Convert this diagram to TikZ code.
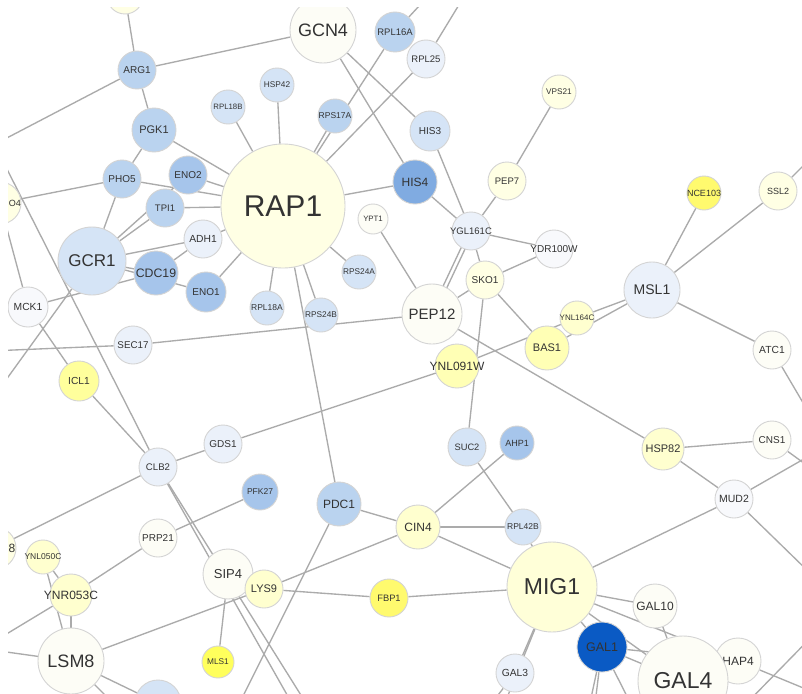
\documentclass[tikz,border=0pt]{standalone}
\usepackage{fontspec}
\setmainfont{Liberation Sans}
\pgfdeclarelayer{bg}\pgfdeclarelayer{edges}
\pgfsetlayers{bg,edges,main}
\definecolor{edgec}{HTML}{ABABAB}
\definecolor{bord}{HTML}{D4D4D4}
\definecolor{txt}{HTML}{333333}
\definecolor{w0}{HTML}{FDFDF6}
\definecolor{wb}{HTML}{F8F9FC}
\definecolor{y1}{HTML}{FFFFE4}
\definecolor{ym}{HTML}{FFFFD8}
\definecolor{y2}{HTML}{FFFFCF}
\definecolor{y3}{HTML}{FFFFB5}
\definecolor{yi}{HTML}{FFFF9C}
\definecolor{y4}{HTML}{FFFA6E}
\definecolor{y5}{HTML}{FFFF5C}
\definecolor{b0}{HTML}{EBF1FA}
\definecolor{b1}{HTML}{D5E4F6}
\definecolor{b2}{HTML}{BAD3EF}
\definecolor{b3}{HTML}{A6C5EB}
\definecolor{b4}{HTML}{80ABE1}
\definecolor{b5}{HTML}{0A5AC4}
\tikzset{
  gnode/.style={circle,draw=bord,line width=0.9pt,inner sep=0pt,text=txt},
  edge/.style={draw=edgec,line width=1.35pt},
  partlab/.style={text=txt,inner sep=0pt,anchor=east}
}
\newcommand\gn[7]{\node[gnode,minimum size=2*#4pt,fill=#5] (#1) at (#2,#3) {\makebox[0pt]{\fontsize{#6}{#6}\selectfont #7}};}
\begin{document}
\begin{tikzpicture}[x=1pt,y=-1pt]
\useasboundingbox (0,0) rectangle (802,693);
\begin{pgfonlayer}{bg}
\fill[white] (0,0) rectangle (802,693);
\end{pgfonlayer}
\begin{scope}
\clip (8,8) rectangle (802,693);
\gn{top}{125}{-4}{18}{y1}{9}{}
\gn{arg1}{137}{70}{19}{b2}{10}{ARG1}
\gn{pgk1}{154}{130}{22}{b2}{11}{PGK1}
\gn{pho5}{122}{179}{19}{b2}{10}{PHO5}
\gn{eno2}{188}{175}{19}{b3}{10}{ENO2}
\gn{tpi1}{165}{208}{19}{b2}{9.5}{TPI1}
\gn{io4}{0}{203}{21}{y1}{9}{}
\node[partlab,font=\fontsize{9}{9}\selectfont] (io4lab) at (21,203) {IO4};
\gn{rap1}{283}{206}{62}{y1}{30}{RAP1}
\gn{gcn4}{323}{30}{33}{w0}{18}{GCN4}
\gn{rpl16a}{395}{32}{20}{b2}{9.5}{RPL16A}
\gn{rpl25}{426}{59}{19}{b0}{9.5}{RPL25}
\gn{hsp42}{277}{85}{17}{b1}{8.3}{HSP42}
\gn{rpl18b}{228}{107}{17}{b1}{7.8}{RPL18B}
\gn{rps17a}{335}{116}{17}{b2}{8.5}{RPS17A}
\gn{his3}{430}{131}{20}{b1}{10}{HIS3}
\gn{his4}{415}{182}{22}{b4}{12}{HIS4}
\gn{ypt1}{373}{219}{15}{w0}{7.8}{YPT1}
\gn{pep7}{507}{181}{19}{y1}{9.5}{PEP7}
\gn{vps21}{559}{92}{17}{y1}{8.2}{VPS21}
\gn{nce103}{704}{193}{17}{y4}{9}{NCE103}
\gn{ssl2}{778}{191}{19}{y1}{9}{SSL2}
\gn{ygl161c}{471}{231}{19}{b0}{9.5}{YGL161C}
\gn{ydr100w}{554}{249}{19}{wb}{10}{YDR100W}
\gn{sko1}{485}{280}{19}{y1}{10}{SKO1}
\gn{ynl091w}{457}{366}{22}{y3}{12}{YNL091W}
\gn{pep12}{432}{314}{30}{w0}{15}{PEP12}
\gn{ynl164c}{577}{318}{17}{y2}{8}{YNL164C}
\gn{msl1}{652}{290}{28}{b0}{14}{MSL1}
\gn{bas1}{547}{348}{22}{y3}{11}{BAS1}
\gn{atc1}{772}{350}{19}{w0}{10.3}{ATC1}
\gn{sec17}{133}{345}{19}{b0}{9.8}{SEC17}
\gn{mck1}{28}{307}{20}{wb}{10.3}{MCK1}
\gn{gcr1}{92}{261}{34}{b1}{17}{GCR1}
\gn{adh1}{203}{239}{19}{b0}{10.3}{ADH1}
\gn{cdc19}{156}{273}{22}{b3}{12.3}{CDC19}
\gn{eno1}{206}{292}{20}{b3}{10}{ENO1}
\gn{rpl18a}{267}{308}{17}{b1}{8.5}{RPL18A}
\gn{rps24b}{321}{315}{17}{b1}{8.3}{RPS24B}
\gn{rps24a}{359}{272}{17}{b1}{8.3}{RPS24A}
\gn{icl1}{79}{381}{20}{yi}{10.2}{ICL1}
\gn{gds1}{223}{444}{19}{b0}{10}{GDS1}
\gn{clb2}{158}{467}{19}{b0}{9.6}{CLB2}
\gn{suc2}{467}{447}{19}{b1}{9.3}{SUC2}
\gn{ahp1}{517}{443}{17}{b3}{9}{AHP1}
\gn{hsp82}{663}{449}{21}{y2}{11}{HSP82}
\gn{cns1}{772}{440}{19}{w0}{10}{CNS1}
\gn{pfk27}{260}{492}{18}{b3}{8.5}{PFK27}
\gn{pdc1}{339}{504}{22}{b2}{12}{PDC1}
\gn{cin4}{418}{527}{22}{y2}{12}{CIN4}
\gn{rpl42b}{523}{527}{18}{b1}{8.5}{RPL42B}
\gn{mig1}{552}{587}{45}{ym}{23}{MIG1}
\gn{gal10}{655}{606}{22}{w0}{12}{GAL10}
\gn{gal1}{602}{647}{25}{b5}{12.5}{GAL1}
\gn{hap4}{738}{661}{23}{w0}{12}{HAP4}
\gn{gal4}{683}{681}{45}{w0}{23}{GAL4}
\gn{mud2}{734}{499}{19}{wb}{10.5}{MUD2}
\gn{gal3}{515}{673}{19}{b0}{10.3}{GAL3}
\gn{fbp1}{389}{598}{19}{y4}{9.3}{FBP1}
\gn{sip4}{228}{574}{25}{w0}{13}{SIP4}
\gn{lys9}{264}{589}{19}{y2}{11}{LYS9}
\gn{mls1}{218}{662}{16}{y5}{8.3}{MLS1}
\gn{prp21}{158}{538}{19}{w0}{10}{PRP21}
\gn{ynl050c}{43}{557}{17}{y2}{8.5}{YNL050C}
\gn{n8}{-5}{548}{21}{y1}{12}{}
\node[partlab,font=\fontsize{12}{12}\selectfont] (n8lab) at (15.5,548) {8};
\gn{ynr053c}{71}{595}{21}{y2}{12}{YNR053C}
\gn{lsm8}{71}{661}{33}{w0}{18}{LSM8}
\gn{bot}{158}{703}{23}{b1}{9}{}
\end{scope}
\coordinate (oL1) at (-20,152);
\coordinate (oTL) at (-22,112);
\coordinate (oL2) at (-10,402);
\coordinate (oL3) at (-10,351);
\coordinate (oL4) at (-15,647);
\coordinate (oL5) at (-15,649);
\coordinate (oT1) at (432,-8);
\coordinate (oT2) at (468,-10);
\coordinate (oR1) at (830,139);
\coordinate (oR2) at (812,418);
\coordinate (oR3) at (830,444);
\coordinate (oR4) at (830,482);
\coordinate (oR5) at (850,612);
\coordinate (oR6) at (830,699);
\coordinate (oR8) at (830,618);
\coordinate (oB1) at (290,700);
\coordinate (oB2) at (304,700);
\coordinate (oB3) at (130,720);
\coordinate (oB4) at (235,712);
\coordinate (oB5) at (500,715);
\coordinate (oB6) at (485,712);
\coordinate (oB8) at (594,712);
\coordinate (oB9) at (588,712);
\coordinate (oB10) at (635,712);
\coordinate (oB11) at (740,710);
\begin{pgfonlayer}{edges}
\clip (8,8) rectangle (802,693);
\draw[edge] (top) -- (arg1);
\draw[edge] (arg1) -- (gcn4);
\draw[edge] (arg1) -- (pgk1);
\draw[edge] (arg1) -- (oL1);
\draw[edge] (pgk1) -- (pho5);
\draw[edge] (pgk1) -- (rap1);
\draw[edge] (pho5) -- (io4);
\draw[edge] (pho5) -- (rap1);
\draw[edge] (pho5) -- (gcr1);
\draw[edge] (eno2) -- (rap1);
\draw[edge] (tpi1) -- (rap1);
\draw[edge] (gcr1) -- (tpi1);
\draw[edge] (gcr1) -- (eno2);
\draw[edge] (gcr1) -- (adh1);
\draw[edge] (gcr1) -- (cdc19);
\draw[edge] (gcr1) -- (eno1);
\draw[edge] (cdc19) -- (adh1);
\draw[edge] (adh1) -- (rap1);
\draw[edge] (eno1) -- (rap1);
\draw[edge] (mck1) -- (cdc19);
\draw[edge] (io4) -- (mck1);
\draw[edge] (mck1) -- (icl1);
\draw[edge] (oTL) -- (clb2);
\draw[edge] (gcr1) -- (oL2);
\draw[edge] (icl1) -- (clb2);
\draw[edge] (oL3) -- (sec17);
\draw[edge] (sec17) -- (pep12);
\draw[edge] (rap1) -- (rpl18b);
\draw[edge] (rap1) -- (hsp42);
\draw[edge] (rap1) -- (rps17a);
\draw[edge] (rap1) -- (rpl16a);
\draw[edge] (rap1) -- (rpl25);
\draw[edge] (rap1) -- (his4);
\draw[edge] (rap1) -- (rps24a);
\draw[edge] (rap1) -- (rps24b);
\draw[edge] (rap1) -- (rpl18a);
\draw[edge] (rap1) -- (pdc1);
\draw[edge] (rpl16a) -- (oT1);
\draw[edge] (rpl25) -- (oT2);
\draw[edge] (gcn4) -- (his4);
\draw[edge] (gcn4) -- (his3);
\draw[edge] (his4) -- (ygl161c);
\draw[edge] (his3) -- (ygl161c);
\draw[edge] (pep7) -- (ygl161c);
\draw[edge] (pep7) -- (vps21);
\draw[edge] (ygl161c) -- (ydr100w);
\draw[edge] (ygl161c) -- (sko1);
\draw[edge] ([xshift=-2pt]ygl161c.center) -- ([xshift=-2pt]pep12.center);
\draw[edge] ([xshift=2.5pt]ygl161c.center) -- ([xshift=2.5pt]pep12.center);
\draw[edge] (sko1) -- (ydr100w);
\draw[edge] (sko1) -- (pep12);
\draw[edge] (sko1) -- (bas1);
\draw[edge] (sko1) -- (suc2);
\draw[edge] (ypt1) -- (pep12);
\draw[edge] (pep12) -- (hsp82);
\draw[edge] (ynl091w) -- (gds1);
\draw[edge] (ynl091w) -- (ynl164c);
\draw[edge] (msl1) -- (ynl164c);
\draw[edge] (msl1) -- (bas1);
\draw[edge] (msl1) -- (ssl2);
\draw[edge] (msl1) -- (nce103);
\draw[edge] (msl1) -- (atc1);
\draw[edge] (ssl2) -- (oR1);
\draw[edge] (atc1) -- (oR2);
\draw[edge] (hsp82) -- (cns1);
\draw[edge] (hsp82) -- (mud2);
\draw[edge] (mud2) -- (oR3);
\draw[edge] (cns1) -- (oR4);
\draw[edge] (mud2) -- (mig1);
\draw[edge] (mud2) -- (oR5);
\draw[edge] (gds1) -- (clb2);
\draw[edge] (clb2) -- (n8);
\draw[edge] (clb2) -- (oB1);
\draw[edge] (clb2) -- (oB2);
\draw[edge] (pfk27) -- (prp21);
\draw[edge] (prp21) -- (ynr053c);
\draw[edge] (ynr053c) -- (ynl050c);
\draw[edge] (ynr053c) -- (lsm8);
\draw[edge] (ynl050c) -- (lsm8);
\draw[edge] (ynr053c) -- (oL4);
\draw[edge] (lsm8) -- (oL5);
\draw[edge] (lsm8) -- (lys9);
\draw[edge] (lsm8) -- (bot);
\draw[edge] (lsm8) -- (oB3);
\draw[edge] (sip4) -- (mls1);
\draw[edge] (lys9) -- (cin4);
\draw[edge] (lys9) -- (fbp1);
\draw[edge] (pdc1) -- (cin4);
\draw[edge] (pdc1) -- (oB4);
\draw[edge] (cin4) -- (rpl42b);
\draw[edge] (cin4) -- (ahp1);
\draw[edge] (cin4) -- (mig1);
\draw[edge] (suc2) -- (rpl42b);
\draw[edge] (rpl42b) -- (mig1);
\draw[edge] (fbp1) -- (mig1);
\draw[edge] (mig1) -- (gal3);
\draw[edge] (mig1) -- (oB5);
\draw[edge] (gal3) -- (oB6);
\draw[edge] (mig1) -- (gal10);
\draw[edge] (mig1) -- (hap4);
\draw[edge] (mig1) -- (gal4);
\draw[edge] (mig1) -- (gal1);
\draw[edge] (gal10) -- (gal4);
\draw[edge] (gal1) -- (gal4);
\draw[edge] (gal1) -- (hap4);
\draw[edge] (gal1) -- (oB8);
\draw[edge] (gal1) -- (oB9);
\draw[edge] (gal1) -- (oB10);
\draw[edge] (hap4) -- (oR6);
\draw[edge] (oB11) -- (oR8);
\end{pgfonlayer}
\end{tikzpicture}
\end{document}
